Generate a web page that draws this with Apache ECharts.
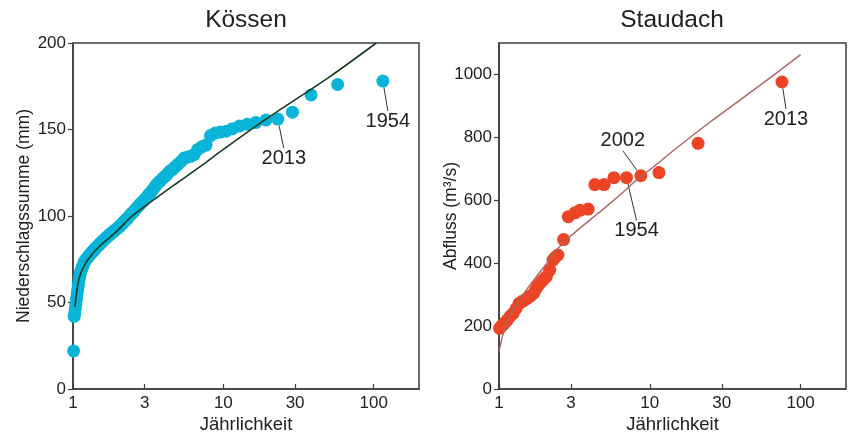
<!DOCTYPE html>
<html>
<head>
<meta charset="utf-8">
<title>Kössen / Staudach – Jährlichkeit</title>
<script src="https://cdn.jsdelivr.net/npm/echarts@6/dist/echarts.min.js"></script>
<style>
  html, body { margin: 0; padding: 0; background: #ffffff; }
  #chart { width: 850px; height: 434px; }
</style>
</head>
<body>
<div id="chart"></div>
<script>
// ---- data -------------------------------------------------------------
const xTickValues = [1, 3, 10, 30, 100];
const koessenTickValues = [0, 50, 100, 150, 200];
const staudachTickValues = [0, 200, 400, 600, 800, 1000];

// Kössen: annual precipitation maxima by rank (return period in years, mm)
const koessenReturnPeriod = [
  115, 57.5, 38.3, 28.8, 23.0, 19.2, 16.4, 14.4, 12.8, 11.5,
  10.45, 9.58, 8.85, 8.21, 7.67, 7.19, 6.76, 6.39, 6.05, 5.75,
  5.48, 5.23, 5.00, 4.79, 4.60, 4.42, 4.26, 4.11, 3.97, 3.83,
  3.71, 3.59, 3.48, 3.38, 3.29, 3.19, 3.11, 3.03, 2.95, 2.88,
  2.80, 2.74, 2.67, 2.61, 2.56, 2.50, 2.45, 2.40, 2.35, 2.30,
  2.25, 2.21, 2.17, 2.13, 2.09, 2.05, 2.02, 1.98, 1.95, 1.92,
  1.885, 1.855, 1.825, 1.797, 1.769, 1.742, 1.716, 1.691, 1.667, 1.643,
  1.620, 1.597, 1.575, 1.554, 1.533, 1.513, 1.494, 1.474, 1.456, 1.438,
  1.420, 1.402, 1.386, 1.369, 1.353, 1.337, 1.322, 1.307, 1.292, 1.278,
  1.264, 1.250, 1.237, 1.223, 1.211, 1.198, 1.186, 1.173, 1.162, 1.150,
  1.139, 1.127, 1.117, 1.106, 1.095, 1.085, 1.075, 1.065, 1.055, 1.045,
  1.036, 1.027, 1.018, 1.009
];
const koessenPrecip = [
  178, 176, 170, 160, 156, 155.5, 154, 153, 152, 150.5,
  149, 148.5, 148, 146.5, 141, 140, 138.5, 135.5, 134.5, 134,
  133.5, 131.5, 130, 128.5, 127, 126, 124.5, 123, 122, 120.5,
  119.5, 118, 116.5, 115, 113.5, 112.5, 111, 110, 109, 108,
  107, 106, 105, 104, 103, 102, 101.5, 100.5, 99.5, 98.5,
  98, 97, 96.5, 95.5, 95, 94, 93.5, 93, 92.5, 92,
  91.5, 91, 90.5, 90, 89.5, 89, 88.5, 88, 87.5, 87,
  86.5, 86, 85.5, 85, 84.5, 84, 83.5, 83, 82.5, 82,
  81.5, 81, 80.5, 80, 79.5, 79, 78.5, 78, 77.5, 77,
  76.5, 76, 75.5, 75, 74.5, 74, 73, 72, 71, 70,
  69, 68, 66.5, 64.5, 62.5, 60, 57.5, 55, 52, 49,
  46.5, 44, 42, 22
];
const koessenYears = { 0: '1954', 4: '2013' };

// Kössen: fitted distribution curve
const koessenFitT  = [1.03, 1.05, 1.08, 1.12, 1.2, 1.3, 1.5, 1.75, 2, 2.4, 3, 4, 5, 7, 10, 20, 50, 104];
const koessenFitMm = [47.5, 54, 61, 66.5, 72, 76.5, 82.5, 87.5, 92, 99, 105.5, 113.5, 119.5, 128.5, 138.5, 157, 180, 200];

// Staudach: annual peak discharge by rank (return period in years, m³/s)
const staudachReturnPeriod = [
  75.2, 20.9, 11.5, 8.72, 7.01, 5.78, 4.98, 4.32, 3.90, 3.44,
  3.19, 2.88, 2.68, 2.46, 2.35, 2.28, 2.17, 2.06, 1.97, 1.90,
  1.82, 1.76, 1.70, 1.62, 1.55, 1.48, 1.42, 1.36, 1.30, 1.24,
  1.19, 1.14, 1.10, 1.06, 1.03, 1.01
];
const staudachDischarge = [
  976, 781, 688, 678, 672, 672, 650, 650, 572, 568,
  560, 548, 475, 426, 418, 410, 378, 357, 348, 340,
  330, 318, 305, 296, 290, 283, 278, 272, 256, 240,
  232, 220, 212, 203, 198, 193
];
const staudachYears = { 0: '2013', 3: '2002', 4: '1954' };

// Staudach: fitted distribution curve
const staudachFitT = [1.0, 1.02, 1.05, 1.08, 1.12, 1.2, 1.37, 1.6, 1.77, 2.0, 2.52, 3.0, 4.0, 5.0, 6.3, 7.9, 10, 15.8, 25, 40, 63, 100];
const staudachFitQ = [118, 138, 165, 185, 209, 240, 283, 330, 357, 390, 452, 487, 537, 575, 616, 658, 697, 774, 848, 920, 990, 1063];

// ---- styling ------------------------------------------------------------
const FONT = "'Liberation Sans', Arial, Helvetica, sans-serif";
const INK = '#222222';
const AXIS = '#3c3c3c';
const CYAN = '#08b4d8';
const RED = '#ec4424';

// label offsets (px) for the annotated years, relative to their marker
const koessenNoteOffset = { 0: [5, 40], 4: [6, 39] };
const staudachNoteOffset = { 0: [4, 37], 3: [-18, -35], 4: [10, 53] };

function pairs(xs, ys) { return xs.map((x, i) => [x, ys[i]]); }

function scatterData(xs, ys, years) {
  return xs.map((x, i) => {
    const item = { value: [x, ys[i]] };
    if (years[i]) {
      item.label = { show: true, formatter: years[i] };
    }
    return item;
  });
}

function xAxisFor(gridIndex) {
  return {
    type: 'log', logBase: 10, gridIndex, min: 1, max: 200,
    name: 'Jährlichkeit', nameLocation: 'middle', nameGap: 26, nameMoveOverlap: false,
    nameTextStyle: { fontFamily: FONT, fontSize: 18.5, color: INK },
    axisLine: { show: true, onZero: false, lineStyle: { color: AXIS, width: 1.5 } },
    axisTick: { show: true, inside: true, length: 5, customValues: xTickValues, lineStyle: { color: AXIS, width: 1.2 } },
    minorTick: { show: false },
    axisLabel: { customValues: xTickValues, margin: 6, fontFamily: FONT, fontSize: 17, color: INK,
                 formatter: v => String(v) },
    splitLine: { show: false }
  };
}

function yAxisFor(gridIndex, max, ticks, name, nameGap) {
  return {
    type: 'value', gridIndex, min: 0, max,
    name, nameLocation: 'middle', nameGap, nameMoveOverlap: false,
    nameTextStyle: { fontFamily: FONT, fontSize: 17.5, color: INK },
    axisLine: { show: true, onZero: false, lineStyle: { color: AXIS, width: 1.5 } },
    axisTick: { show: true, inside: false, length: 5, customValues: ticks, lineStyle: { color: AXIS, width: 1.2 } },
    axisLabel: { customValues: ticks, margin: 7, fontFamily: FONT, fontSize: 17, color: INK,
                 formatter: v => String(v) },
    splitLine: { show: false }
  };
}

function noteLayout(offsets) {
  return function (params) {
    const o = offsets[params.dataIndex];
    return o ? { dx: o[0], dy: o[1] } : {};
  };
}

const noteLabel = {
  show: false, position: 'inside',
  fontFamily: FONT, fontSize: 20, color: INK
};
const noteLine = { show: true, lineStyle: { color: '#333333', width: 1 } };

const chart = echarts.init(document.getElementById('chart'), null, { renderer: 'canvas' });

chart.setOption({
  animation: false,
  backgroundColor: '#ffffff',
  title: [
    { text: 'Kössen', left: 246, top: 8, padding: 0, textAlign: 'center',
      textStyle: { fontFamily: FONT, fontSize: 24.5, fontWeight: 'normal', color: INK } },
    { text: 'Staudach', left: 672, top: 8, padding: 0, textAlign: 'center',
      textStyle: { fontFamily: FONT, fontSize: 24.5, fontWeight: 'normal', color: INK } }
  ],
  grid: [
    { left: 73, top: 43, width: 346, height: 346, outerBoundsMode: 'none', containLabel: false,
      show: true, borderColor: AXIS, borderWidth: 1.5, backgroundColor: 'transparent' },
    { left: 499, top: 43, width: 347, height: 346, outerBoundsMode: 'none', containLabel: false,
      show: true, borderColor: AXIS, borderWidth: 1.5, backgroundColor: 'transparent' }
  ],
  xAxis: [xAxisFor(0), xAxisFor(1)],
  yAxis: [
    yAxisFor(0, 200, koessenTickValues, 'Niederschlagssumme (mm)', 40),
    yAxisFor(1, 1100, staudachTickValues, 'Abfluss (m³/s)', 39)
  ],
  series: [
    {
      name: 'Kössen', type: 'scatter', xAxisIndex: 0, yAxisIndex: 0,
      symbolSize: 13, itemStyle: { color: CYAN, opacity: 1 },
      data: scatterData(koessenReturnPeriod, koessenPrecip, koessenYears),
      label: noteLabel, labelLine: noteLine,
      labelLayout: noteLayout(koessenNoteOffset),
      z: 2
    },
    {
      name: 'Kössen Anpassung', type: 'line', xAxisIndex: 0, yAxisIndex: 0,
      data: pairs(koessenFitT, koessenFitMm), smooth: 0.35,
      symbol: 'none', lineStyle: { color: '#173a20', width: 1.6 },
      z: 3
    },
    {
      name: 'Staudach', type: 'scatter', xAxisIndex: 1, yAxisIndex: 1,
      symbolSize: 13, itemStyle: { color: RED, opacity: 1 },
      data: scatterData(staudachReturnPeriod, staudachDischarge, staudachYears),
      label: noteLabel, labelLine: noteLine,
      labelLayout: noteLayout(staudachNoteOffset),
      z: 2
    },
    {
      name: 'Staudach Anpassung', type: 'line', xAxisIndex: 1, yAxisIndex: 1,
      data: pairs(staudachFitT, staudachFitQ), smooth: 0.3,
      symbol: 'none', lineStyle: { color: '#a5675f', width: 1.4 },
      z: 3
    }
  ]
});
</script>
</body>
</html>
